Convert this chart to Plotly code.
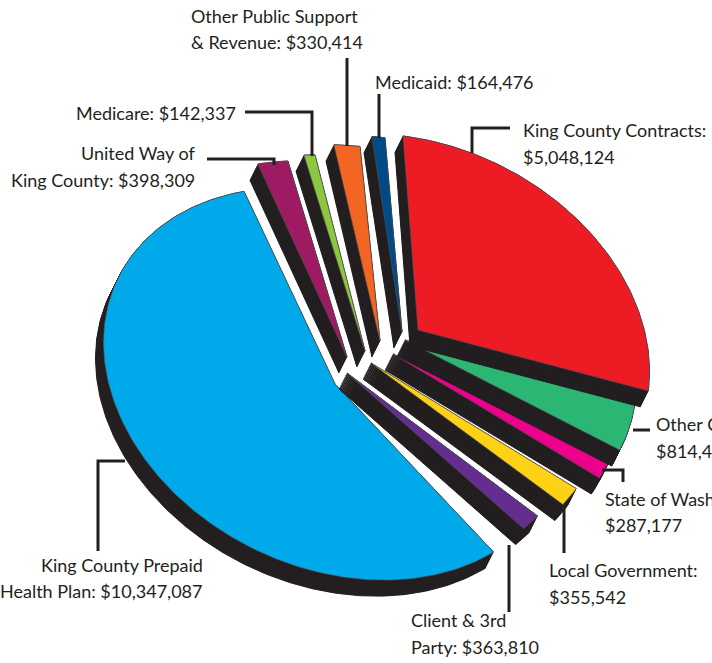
import numpy as np
import plotly.graph_objects as go

# ---- data (clockwise from the top of the red slice) ----
categories = ["King County Contracts", "Other Contracts", "State of Washington",
              "Local Government", "Client & 3rd Party", "King County Prepaid Health Plan",
              "United Way of King County", "Medicare",
              "Other Public Support & Revenue", "Medicaid"]
values = [5048124, 814421, 287177, 355542, 363810, 10347087, 398309, 142337, 330414, 164476]
colors = ["#ed1c24", "#2bb673", "#ec008c", "#fcd116", "#662d91", "#00a9e9",
          "#9e1b63", "#8dc63f", "#f26522", "#004b87"]
# explosion of each slice's point from the chart centre
center = (375, 355)
explode_x = [43, 30, 18, -4, -28, -40, -28, -10, 5, 27]
explode_y = [-25, -15, -1, 8, 18, 29, 2, -4, -14, -23]
# small per-slice styling nudges of the drawn arc, degrees
nudge_start = [0, 0, -2, 0, 0, 5, 1.5, 1, 2, -0.5]
nudge_end = [0, 0, -0.6, -0.6, -1.5, 1, 1.5, 1, 2, -0.5]
draw_order = [5, 4, 3, 2, 1, 0, 9, 8, 7, 6]

label_lines = [
    ("Other Public Support", 189, 16, "left"), ("& Revenue: $330,414", 189, 42, "left"),
    ("Medicaid: $164,476", 373, 82, "left"),
    ("King County Contracts:", 521, 130, "left"), ("$5,048,124", 521, 157, "left"),
    ("Medicare: $142,337", 238, 113, "right"),
    ("United Way of", 197, 153, "right"), ("King County: $398,309", 197, 180, "right"),
    ("King County Prepaid", 205, 565, "right"), ("Health Plan: $10,347,087", 205, 591, "right"),
    ("Client & 3rd", 409, 620, "left"), ("Party: $363,810", 409, 647, "left"),
    ("Local Government:", 547, 570, "left"), ("$355,542", 547, 597, "left"),
    ("State of Washington:", 603, 499, "left"), ("$287,177", 603, 525, "left"),
    ("Other Contracts:", 654, 424, "left"), ("$814,421", 654, 451, "left"),
]
leaders = [
    [(347, 58), (347, 146)], [(379, 94), (379, 138)],
    [(510, 128), (472, 128), (472, 153)],
    [(245, 112), (312, 112), (312, 156)],
    [(207, 159), (274, 159), (274, 165)],
    [(125, 461), (98, 461), (98, 551)],
    [(509, 545), (509, 612)], [(564, 505), (564, 553)],
    [(602, 470), (623, 470), (623, 482)], [(633, 430), (650, 430)],
]

# ---- projection of the tilted pie ----
P = np.array([-15.0, -194.0])
Q = np.array([231.0, 29.0])
depth = np.array([-8.0, 16.0])
DARK = "#231f20"

total = sum(values)
edges = np.concatenate([[0], np.cumsum(values)]) / total * 2 * np.pi


def slice_poly(i):
    t0 = edges[i] + np.radians(nudge_start[i])
    t1 = edges[i + 1] + np.radians(nudge_end[i])
    n = max(4, int((t1 - t0) * 60))
    t = np.linspace(t0, t1, n)
    rim = np.outer(np.cos(t), P) + np.outer(np.sin(t), Q)
    apex = np.array([center[0] + explode_x[i], center[1] + explode_y[i]])
    return np.vstack([[0, 0], rim, [0, 0]]) + apex


fig = go.Figure()
for i in draw_order:
    pts = slice_poly(i)
    xs, ys = [], []
    for k in np.linspace(1, 0, 17):
        q = pts + depth * k
        xs += list(q[:, 0]) + [None]
        ys += list(q[:, 1]) + [None]
    fig.add_trace(go.Scatter(x=xs, y=ys, mode="lines", fill="toself", fillcolor=DARK,
                             line=dict(color=DARK, width=1), hoverinfo="skip", showlegend=False))
    fig.add_trace(go.Scatter(x=pts[:, 0], y=pts[:, 1], mode="lines", fill="toself",
                             fillcolor=colors[i], line=dict(color="#555555", width=0.6),
                             name=categories[i], text=f"{categories[i]}: ${values[i]:,}",
                             hoverinfo="text", showlegend=False))

for seg in leaders:
    fig.add_trace(go.Scatter(x=[p[0] for p in seg], y=[p[1] for p in seg], mode="lines",
                             line=dict(color=DARK, width=3), hoverinfo="skip", showlegend=False))

annotations = [dict(x=x, y=y, text=t, showarrow=False, xanchor=a, yanchor="middle",
                    xref="x", yref="y",
                    font=dict(family="Lato", size=18, color=DARK))
               for t, x, y, a in label_lines]

fig.update_layout(width=712, height=663, margin=dict(l=0, r=0, t=0, b=0),
                  paper_bgcolor="white", plot_bgcolor="white", annotations=annotations,
                  xaxis=dict(range=[0, 712], visible=False, fixedrange=True),
                  yaxis=dict(range=[663, 0], visible=False, fixedrange=True))
fig.write_html("out.html", config=dict(displayModeBar=False),
               post_script="document.body.style.margin='0';document.documentElement.style.overflow='hidden';")
